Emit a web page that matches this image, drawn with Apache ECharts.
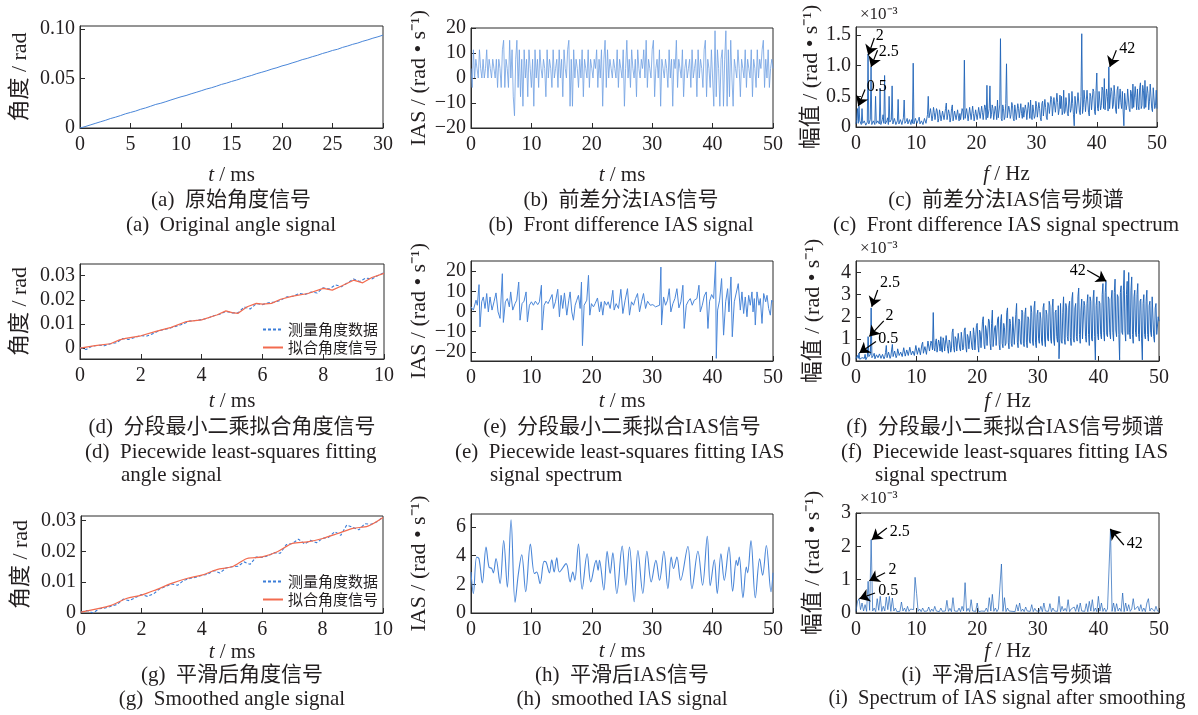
<!DOCTYPE html>
<html><head><meta charset="utf-8">
<script src="https://cdn.jsdelivr.net/npm/echarts/dist/echarts.min.js"></script>
<style>html,body{margin:0;padding:0;background:#fff}#c{width:1198px;height:715px}</style>
</head><body><div id="c"></div>
<script>
// ---------------- data ----------------
const aStep = 0.5; // ms
const aVals = [0.0000,0.0014,0.0030,0.0046,0.0062,0.0077,0.0095,0.0109,0.0125,0.0143,
0.0157,0.0171,0.0189,0.0203,0.0220,0.0238,0.0250,0.0266,0.0283,0.0299,
0.0315,0.0328,0.0345,0.0360,0.0376,0.0393,0.0406,0.0422,0.0440,0.0453,
0.0470,0.0484,0.0501,0.0517,0.0531,0.0549,0.0563,0.0578,0.0595,0.0609,
0.0627,0.0640,0.0657,0.0672,0.0690,0.0703,0.0720,0.0734,0.0752,0.0766,
0.0783,0.0795,0.0814,0.0828,0.0845,0.0858,0.0876,0.0890,0.0907,0.0921,0.0938];

const bStep = 0.2; // ms
const bVals = [3.8,-3.8,11.3,0,7.5,3.8,0,11.3,3.8,0,
7.5,0,3.8,11.3,0,7.5,3.8,0,7.5,3.8,
0,7.5,-3.8,7.5,3.8,-3.8,11.3,15.1,-3.8,7.5,
3.8,-3.8,15.1,0,11.3,-7.5,-15.1,7.5,15.1,-3.8,
11.3,-7.5,7.5,-11.3,11.3,0,7.5,-7.5,11.3,3.8,
-3.8,7.5,-11.3,11.3,0,7.5,-3.8,11.3,3.8,0,
7.5,3.8,-7.5,11.3,0,7.5,3.8,-3.8,11.3,0,
3.8,7.5,-3.8,11.3,0,7.5,-7.5,11.3,3.8,0,
11.3,15.1,-11.3,7.5,-11.3,11.3,0,7.5,3.8,-3.8,
7.5,0,11.3,-7.5,7.5,3.8,0,11.3,-3.8,7.5,
3.8,0,7.5,3.8,11.3,-3.8,7.5,0,11.3,-11.3,
7.5,15.1,-3.8,11.3,0,7.5,3.8,0,7.5,3.8,
0,11.3,-3.8,7.5,3.8,0,11.3,-11.3,3.8,15.1,
0,7.5,-3.8,11.3,3.8,0,7.5,-7.5,11.3,3.8,
0,7.5,3.8,11.3,0,15.1,-3.8,7.5,3.8,0,
11.3,15.1,-7.5,3.8,7.5,0,11.3,-11.3,7.5,3.8,
0,7.5,3.8,-3.8,11.3,0,7.5,-11.3,7.5,3.8,
15.1,-3.8,7.5,3.8,0,11.3,-7.5,3.8,7.5,0,
3.8,7.5,-3.8,11.3,0,3.8,7.5,-7.5,11.3,0,
7.5,3.8,-3.8,11.3,15.1,-7.5,7.5,3.8,-3.8,11.3,
0,-11.3,18.9,-7.5,11.3,3.8,-11.3,7.5,11.3,-11.3,
7.5,18.9,-11.3,11.3,-7.5,15.1,0,-11.3,7.5,3.8,
0,11.3,3.8,-7.5,7.5,3.8,0,11.3,-3.8,7.5,
3.8,0,11.3,-7.5,7.5,3.8,-3.8,11.3,0,7.5,
3.8,11.3,15.1,-3.8,7.5,0,11.3,-3.8,3.8,7.5,
3.8];

const specStep = 0.125; // Hz, for (c) and (f)
const cVals = [
0.05,0.12,0.30,0.06,0.34,0.10,0.08,0.04, 0.30,0.06,0.05,0.10,0.12,0.03,0.04,0.08,
1.19,0.05,0.06,0.12,0.98,0.04,0.05,0.10, 0.10,0.04,0.50,0.06,0.04,0.10,0.12,0.05,
0.63,0.04,0.05,0.12,0.20,0.06,0.84,0.05, 0.06,0.10,0.15,0.04,0.50,0.08,0.05,0.12,
0.67,0.05,0.08,0.14,0.12,0.04,0.04,0.10, 0.45,0.05,0.06,0.12,0.10,0.04,0.05,0.15,
0.44,0.06,0.04,0.10,0.14,0.05,0.06,0.12, 0.08,0.04,0.12,0.06,1.04,0.05,0.05,0.14,
0.10,0.06,0.04,0.12,0.16,0.05,0.06,0.10, 0.12,0.04,0.05,0.14,0.15,0.06,0.08,0.20,
0.50,0.15,0.12,0.30,0.28,0.10,0.18,0.32, 0.24,0.12,0.10,0.30,0.26,0.08,0.14,0.28,
0.20,0.10,0.08,0.26,0.24,0.12,0.12,0.30, 0.39,0.12,0.10,0.28,0.22,0.08,0.16,0.30,
0.36,0.10,0.08,0.26,0.25,0.12,0.12,0.28, 0.18,0.10,0.22,0.12,0.10,0.30,0.26,0.12,
1.09,0.14,0.12,0.30,0.28,0.10,0.10,0.32, 0.30,0.12,0.14,0.34,0.22,0.10,0.08,0.28,
0.25,0.12,0.10,0.32,0.30,0.14,0.12,0.34, 0.24,0.12,0.14,0.36,0.32,0.12,0.68,0.15,
0.12,0.30,0.67,0.14,0.20,0.36,0.30,0.12, 0.14,0.34,0.26,0.12,0.44,0.15,0.18,0.36,
1.44,0.14,0.10,0.36,0.30,0.12,0.16,0.38, 1.03,0.15,0.12,0.34,0.28,0.14,0.20,0.40,
0.35,0.14,0.10,0.36,0.26,0.12,0.14,0.38, 0.30,0.15,0.12,0.38,0.22,0.14,0.32,0.16,
0.16,0.36,0.28,0.12,0.10,0.40,0.30,0.14, 0.44,0.16,0.12,0.36,0.26,0.14,0.18,0.42,
0.34,0.16,0.14,0.40,0.30,0.15,0.10,0.38, 0.42,0.18,0.18,0.45,0.32,0.16,0.12,0.40,
0.36,0.22,0.20,0.50,0.45,0.18,0.16,0.48, 0.50,0.24,0.22,0.55,0.40,0.20,0.28,0.52,
0.30,0.50,0.20,0.26,0.60,0.22,0.26,0.48, 0.45,0.22,0.18,0.55,0.52,0.24,0.30,0.58,
0.38,0.20,0.02,0.50,0.48,0.22,0.24,0.56, 0.55,0.24,0.20,0.50,1.52,0.22,0.32,0.60,
0.45,0.25,0.22,0.60,0.62,0.24,0.18,0.55, 0.50,0.28,0.30,0.62,0.58,0.25,0.20,0.60,
0.88,0.30,0.26,0.58,0.55,0.28,0.35,0.65, 0.60,0.30,0.79,0.28,0.30,0.62,0.50,0.26,
0.98,0.30,0.28,0.64,0.58,0.30,0.36,0.68, 0.50,0.28,0.22,0.60,0.66,0.30,0.30,0.62,
0.40,0.30,0.58,0.26,0.02,0.55,0.52,0.28, 0.36,0.62,0.65,0.30,0.25,0.60,0.55,0.30,
0.70,0.32,0.30,0.66,0.48,0.28,0.62,0.34, 0.28,0.64,0.72,0.30,0.35,0.68,0.60,0.30,
0.76,0.32,0.30,0.66,0.55,0.28,0.42,0.70, 0.68,0.30,0.25,0.64,0.62,0.30,0.35,0.60,
0.30];

const dStep = 0.2; // ms
const dMeas = [0.0002,-0.0006,0.0008,0.0012,0.0010,0.0018,0.0022,0.0040,0.0036,0.0044,
0.0052,0.0050,0.0060,0.0072,0.0078,0.0084,0.0092,0.0100,0.0112,0.0114,
0.0118,0.0124,0.0134,0.0140,0.0152,0.0146,0.0146,0.0170,0.0162,0.0184,
0.0180,0.0188,0.0190,0.0198,0.0212,0.0214,0.0226,0.0222,0.0232,0.0228,
0.0250,0.0244,0.0262,0.0254,0.0270,0.0286,0.0276,0.0290,0.0286,0.0300,0.0312];
const dFit = [[0,0.0000],[0.5,0.0010],[1.0,0.0018],[1.3,0.0034],[1.5,0.0040],[2.0,0.0051],[2.5,0.0069],
[3.0,0.0086],[3.5,0.0110],[4.0,0.0117],[4.5,0.0137],[4.8,0.0154],[5.0,0.0147],[5.2,0.0144],[5.5,0.0171],
[5.8,0.0185],[6.0,0.0182],[6.3,0.0185],[6.6,0.0202],[7.0,0.0215],[7.5,0.0226],[8.0,0.0247],[8.3,0.0240],
[8.6,0.0257],[9.0,0.0281],[9.3,0.0270],[9.6,0.0292],[10.0,0.0309]];

const ePairs = [[0.00,2.3],[0.39,0.7],[0.83,5.6],[1.05,3.1],[1.33,13.3],[1.49,-7.6],[1.77,4.8],[2.04,7.2],
[2.32,1.5],[2.60,8.9],[2.87,-0.2],[3.15,7.2],[3.48,0.7],[3.81,4.8],[4.14,9.2],[4.48,-0.2],[4.81,-3.4],
[5.19,18.7],[5.36,-5.4],[5.69,4.8],[6.02,6.4],[6.35,2.3],[6.57,9.7],[6.91,0.7],[7.29,3.9],[7.57,5.6],
[7.90,14.6],[8.12,-4.3],[8.45,3.9],[8.78,5.1],[9.12,9.7],[9.34,-5.1],[9.67,3.1],[10.00,4.8],[10.33,3.1],
[10.66,5.1],[11.05,3.4],[11.33,4.8],[11.66,13.0],[11.77,-9.2],[12.10,3.1],[12.43,5.1],[12.76,3.9],
[13.09,6.1],[13.43,8.4],[13.65,1.5],[13.98,4.8],[14.36,11.0],[14.64,-2.6],[14.92,8.0],[15.19,1.5],
[15.47,9.2],[15.86,-1.8],[16.19,5.6],[16.41,9.7],[16.69,-0.2],[16.96,-4.3],[17.24,3.1],[17.51,5.6],
[17.79,8.0],[18.07,1.5],[18.29,14.6],[18.45,-16.9],[18.73,3.1],[19.17,5.6],[19.45,17.9],[19.67,-1.8],
[19.94,3.9],[20.28,2.3],[20.55,3.9],[20.94,6.7],[21.27,-0.2],[21.55,4.8],[21.82,-1.8],[22.10,5.1],
[22.43,3.1],[22.71,4.8],[23.04,1.5],[23.48,10.5],[23.70,0.7],[24.03,3.9],[24.42,1.5],[24.81,11.0],
[25.14,-1.0],[25.52,5.6],[25.91,11.3],[26.24,-1.8],[26.57,4.8],[26.91,3.1],[27.24,6.4],[27.57,8.9],
[27.90,-0.2],[28.23,4.8],[28.56,8.9],[28.90,1.5],[29.23,5.1],[29.67,3.1],[30.11,3.4],[30.55,2.3],
[30.88,3.1],[31.22,3.1],[31.44,22.0],[31.55,-6.7],[31.88,7.2],[32.21,3.1],[32.54,5.6],[32.82,11.3],
[33.09,-0.2],[33.43,3.9],[33.76,6.4],[34.09,11.3],[34.42,1.8],[34.75,4.8],[35.08,13.0],[35.30,-8.4],
[35.64,3.1],[35.97,5.1],[36.30,6.4],[36.63,3.1],[36.96,5.6],[37.40,6.4],[37.74,13.0],[37.96,-0.2],
[38.29,3.1],[38.62,7.7],[38.95,9.7],[39.23,-8.4],[39.50,5.1],[39.84,8.4],[40.17,6.4],[40.50,25.0],
[40.61,-23.2],[40.83,0.7],[41.16,5.6],[41.49,16.3],[41.82,-11.7],[42.16,4.8],[42.49,11.3],[42.71,-0.2],
[43.04,17.1],[43.26,-12.5],[43.59,4.8],[43.92,5.6],[44.25,13.8],[44.59,0.7],[44.86,9.7],[45.14,-1.0],
[45.41,7.2],[45.69,-2.6],[45.97,8.0],[46.24,3.1],[46.52,9.7],[46.69,-0.2],[46.91,6.4],[47.07,-6.7],
[47.35,9.7],[47.68,3.1],[47.90,6.4],[48.18,-5.9],[48.46,8.9],[48.79,4.8],[49.01,8.0],[49.28,1.5],
[49.56,-1.8],[49.78,5.6],[50.00,4.8]];

const fVals = [
0.10,0.18,0.25,0.12,0.36,0.08,0.05,0.15, 0.15,0.22,0.08,0.12,0.30,0.06,0.10,0.20,
1.10,0.20,0.12,0.30,2.40,0.15,0.10,0.25, 0.35,0.10,0.12,0.28,0.30,0.15,0.20,0.32,
0.40,0.12,0.15,0.30,0.35,0.10,0.20,0.38, 0.70,0.15,0.18,0.40,0.45,0.12,0.22,0.50,
0.75,0.20,0.20,0.45,0.40,0.15,0.25,0.55, 0.50,0.25,0.18,0.40,0.45,0.20,0.28,0.60,
0.55,0.22,0.20,0.50,0.42,0.25,0.30,0.62, 0.60,0.28,0.22,0.45,0.50,0.25,0.26,0.70,
0.70,0.30,0.30,0.60,0.55,0.28,0.25,0.75, 0.85,0.35,0.30,0.65,0.70,0.30,0.35,0.90,
0.95,0.45,0.40,0.90,0.80,0.50,2.19,0.60, 0.45,0.85,1.00,0.40,0.35,0.95,0.80,0.45,
1.10,0.50,0.40,1.05,0.90,0.45,0.50,1.15, 1.20,0.55,0.35,0.95,0.85,0.40,0.55,1.30,
1.45,0.60,0.40,1.10,1.00,0.45,0.50,1.25, 1.20,0.55,0.45,1.30,0.95,0.50,0.60,1.40,
1.50,0.65,0.40,1.20,1.10,0.55,0.55,1.35, 1.30,0.60,0.50,1.50,1.20,0.50,0.45,1.60,
1.70,0.70,0.40,1.40,1.30,0.60,0.60,1.80, 2.00,0.75,0.55,1.60,1.40,0.70,0.70,1.90,
1.80,0.80,0.50,1.70,2.30,0.65,0.60,1.50, 1.60,0.70,0.70,1.90,2.00,0.75,0.50,1.80,
2.10,0.80,0.60,1.70,1.50,0.70,0.80,2.20, 2.40,0.85,0.55,1.90,1.70,0.80,0.65,2.00,
2.00,0.75,0.70,2.10,2.60,0.85,0.60,1.90, 1.80,0.90,0.75,2.30,2.20,0.80,0.65,2.10,
2.40,0.85,0.60,2.00,1.90,0.90,0.80,2.50, 2.20,0.90,0.70,2.40,2.70,0.85,0.60,2.10,
2.30,1.00,0.80,2.20,1.90,0.90,0.70,2.40, 2.60,0.95,0.65,2.30,2.10,1.00,0.90,2.70,
2.50,1.00,0.80,2.40,2.80,0.95,0.70,2.20, 2.30,1.10,0.85,2.50,0.10,1.00,2.60,0.90,
0.80,2.20,2.90,1.00,0.75,2.60,2.40,1.10, 0.90,2.50,2.70,1.05,0.70,2.80,3.10,1.00,
0.85,2.40,2.60,1.10,0.90,2.90,3.30,1.20, 0.80,2.30,2.80,1.00,0.95,2.70,2.50,1.10,
0.85,2.60,3.00,1.20,0.70,2.90,2.70,1.00, 0.90,2.80,3.20,1.10,0.05,2.50,2.90,1.20,
0.95,2.70,2.60,1.20,1.00,3.00,3.50,1.30, 0.90,3.10,3.60,1.20,1.10,2.90,2.80,1.30,
1.00,2.80,3.20,1.30,0.90,3.10,3.70,1.40, 1.10,3.00,2.90,1.20,0.05,3.10,3.40,1.30,
1.20,3.20,4.10,1.40,0.90,3.00,3.60,1.20, 4.00,1.30,1.00,3.20,3.80,1.20,0.80,2.90,
3.20,1.30,1.10,3.00,3.50,1.20,0.90,2.70, 2.80,1.00,0.05,2.60,3.00,1.20,1.00,2.70,
3.20,1.20,0.90,2.50,2.70,1.30,1.10,2.90, 2.90,1.10,0.85,2.40,2.60,1.20,1.20,2.00,
1.80];

const gMeas = [0.0003,0.0008,0.0000,0.0014,0.0016,0.0022,0.0028,0.0045,0.0040,0.0050,
0.0060,0.0054,0.0062,0.0078,0.0086,0.0094,0.0090,0.0106,0.0112,0.0116,
0.0122,0.0126,0.0138,0.0130,0.0146,0.0150,0.0152,0.0166,0.0158,0.0182,
0.0180,0.0186,0.0196,0.0194,0.0222,0.0226,0.0240,0.0224,0.0236,0.0228,
0.0242,0.0246,0.0264,0.0252,0.0286,0.0278,0.0270,0.0290,0.0288,0.0296,0.0312];
const gFit = [[0,0.0003],[1.0,0.0025],[1.5,0.0047],[2.0,0.0058],[2.5,0.0076],[3.0,0.0096],[3.5,0.0112],
[4.0,0.0123],[4.5,0.0141],[5.0,0.0150],[5.5,0.0177],[6.0,0.0182],[6.5,0.0199],[7.0,0.0226],[7.5,0.0231],
[8.0,0.0242],[8.5,0.0258],[9.0,0.0275],[9.5,0.0282],[10.0,0.0310]];

const hPairs = [[0.00,2.86],[0.39,1.36],[0.94,3.90],[1.33,3.78],[1.88,2.10],[2.49,4.60],[2.98,3.20],
[3.43,3.10],[3.70,2.80],[4.14,3.80],[4.81,2.05],[5.41,5.05],[6.02,1.80],[6.63,6.50],[7.29,0.74],
[7.85,2.75],[8.40,4.06],[9.06,1.48],[9.83,4.80],[10.50,2.75],[10.88,2.86],[11.44,2.05],[12.10,3.60],
[12.43,3.55],[12.98,2.80],[13.37,3.70],[13.76,2.86],[14.20,3.85],[14.64,2.86],[15.75,3.44],[16.41,2.17],
[16.85,2.86],[17.18,2.28],[17.79,4.80],[18.40,1.66],[19.23,4.13],[19.83,2.17],[20.72,3.67],[21.05,2.98],
[21.27,3.67],[21.99,1.60],[22.54,4.30],[23.04,2.75],[23.48,4.20],[24.14,1.36],[25.03,4.66],[25.64,1.94],
[26.24,4.60],[27.02,0.78],[27.63,4.36],[28.45,1.36],[29.12,4.30],[29.84,2.17],[30.61,3.67],[31.22,2.28],
[31.93,4.30],[32.60,1.70],[33.15,3.90],[33.53,3.10],[34.09,3.90],[34.70,2.28],[35.91,4.64],[36.58,1.70],
[37.57,4.30],[38.34,1.94],[39.12,5.35],[39.61,1.90],[40.28,3.70],[40.77,1.36],[41.38,4.13],[41.93,2.28],
[42.71,4.60],[43.32,1.52],[43.92,3.67],[44.14,3.30],[44.42,3.90],[45.03,1.06],[45.58,3.20],[45.80,2.80],
[46.35,5.05],[47.07,1.06],[47.79,3.78],[48.28,2.63],[48.90,4.70],[49.67,1.48],[50.00,2.80]];

const iStep = 0.25; // Hz
const iVals = [0.05,0.35,0.43,0.10, 0.30,0.06,0.25,0.05, 0.95,0.08,2.20,0.06, 0.15,0.04,0.43,0.08,
0.50,0.05,0.20,0.06, 0.48,0.10,0.50,0.05, 0.45,0.06,0.15,0.04, 0.10,0.05,0.33,0.06,
0.15,0.04,0.20,0.05, 0.12,0.06,0.10,1.07, 0.58,0.05,0.12,0.04, 0.15,0.05,0.10,0.06,
0.18,0.04,0.12,0.05, 0.20,0.06,0.08,0.04, 0.15,0.05,0.10,0.06, 0.38,0.05,0.14,0.04,
0.46,0.06,0.12,0.05, 0.15,0.04,0.20,0.06, 0.91,0.05,0.14,0.04, 0.40,0.06,0.12,0.05,
0.30,0.04,0.10,0.06, 0.12,0.05,0.15,0.04, 0.46,0.06,0.56,0.05, 0.15,0.04,0.12,0.06,
1.47,0.05,0.46,0.04, 0.15,0.06,0.12,0.05, 0.10,0.04,0.25,0.06, 0.30,0.05,0.12,0.04,
0.18,0.06,0.10,0.05, 0.25,0.04,0.14,0.06, 0.12,0.05,0.20,0.04, 0.30,0.06,0.12,0.05,
0.28,0.04,0.15,0.06, 0.12,0.05,0.50,0.04, 0.20,0.06,0.14,0.05, 0.40,0.04,0.12,0.06,
0.18,0.05,0.25,0.04, 0.30,0.06,0.12,0.05, 0.28,0.04,0.35,0.06, 0.40,0.05,0.15,0.04,
0.50,0.06,0.30,0.05, 0.15,0.04,0.12,0.06, 2.52,0.05,0.30,0.04, 0.28,0.06,0.15,0.05,
0.60,0.04,0.30,0.06, 0.25,0.05,0.12,0.43, 0.10,0.04,0.20,0.06, 0.25,0.05,0.15,0.04,
0.30,0.43,0.06,0.15, 0.12,0.05,0.20,0.06, 0.05];

// tick values
const xTicks30 = [0,5,10,15,20,25,30];
const xTicks50 = [0,10,20,30,40,50];
const xTicks10 = [0,2,4,6,8,10];
const aYTicks = [0,0.05,0.10];
const bYTicks = [-20,-10,0,10,20];
const cYTicks = [0,0.5,1.0,1.5];
const dYTicks = [0,0.01,0.02,0.03];
const eYTicks = [-20,-10,0,10,20];
const fYTicks = [0,1,2,3,4];
const hYTicks = [0,2,4,6];
const iYTicks = [0,1,2,3];

// legend names
const seriesNames = ['测量角度数据','拟合角度信号'];

// annotations: arrows [tailX, tailY, tipX, tipY], labels [x, y, text, side]
const cArrows = [[3.04,1.45,2.04,1.17],[3.58,1.25,2.49,0.98],[1.5,0.61,0.38,0.34],[43.24,1.25,42.15,0.98]];
const cLabels = [[3.2,1.49,'2','right'],[3.68,1.23,'2.5','right'],[1.7,0.65,'0.5','right'],[43.64,1.27,'42','right']];
const fArrows = [[3.58,3.21,2.59,2.45],[4.58,1.81,2.21,1.11],[3.3,0.88,0.56,0.36],[38.15,4.1,41.3,3.61]];
const fLabels = [[3.87,3.52,'2.5','right'],[4.79,2.06,'2','right'],[3.58,1.0,'0.5','right'],[37.98,4.07,'42','left']];
const iArrows = [[5.1,2.55,2.6,2.2],[4.8,1.21,2.2,0.97],[3.14,0.6,0.56,0.43],[44.2,2.04,41.95,2.52]];
const iLabels = [[5.5,2.45,'2.5','right'],[5.3,1.29,'2','right'],[3.58,0.67,'0.5','right'],[44.6,2.08,'42','right']];

// ---------------- layout / style ----------------
const FONT = '"Liberation Serif","Times New Roman","Noto Sans CJK SC",serif';
const CJK = '"Noto Sans CJK SC",sans-serif';
const TXT = '#231f20';
const AX = '#2b2b2b';

const grids = [
  {left:80, top:26, width:303, height:102},
  {left:471, top:28, width:302, height:100},
  {left:856, top:27, width:301, height:100},
  {left:80, top:264, width:304, height:95},
  {left:471, top:261, width:302, height:100},
  {left:856, top:261, width:303, height:100},
  {left:81, top:516, width:302, height:97},
  {left:471, top:514, width:302, height:99},
  {left:856, top:513, width:303, height:100}
].map(g => Object.assign({show:true, borderColor:AX, borderWidth:1, containLabel:false}, g));

const minus = s => String(s).replace('-', '\u2212');

function xAx(i, max, ticks, name, gap) {
  return {
    type:'value', gridIndex:i, min:0, max:max,
    axisLine:{show:true, onZero:false, lineStyle:{color:AX, width:1}},
    axisTick:{show:true, inside:true, length:5, customValues:ticks, lineStyle:{color:AX, width:1}},
    axisLabel:{customValues:ticks, margin:7, fontSize:20, fontFamily:FONT, color:TXT, formatter:v => minus(v)},
    splitLine:{show:false},
    name:name, nameLocation:'middle', nameGap:gap,
    nameTextStyle:{fontSize:21, fontFamily:FONT, color:TXT,
      rich:{i:{fontStyle:'italic', fontSize:21, fontFamily:FONT, color:TXT}, n:{fontSize:21, fontFamily:FONT, color:TXT}}}
  };
}
function yAx(i, min, max, ticks, fmt, name, gap) {
  return {
    type:'value', gridIndex:i, min:min, max:max,
    axisLine:{show:true, onZero:false, lineStyle:{color:AX, width:1}},
    axisTick:{show:true, inside:true, length:5, customValues:ticks, lineStyle:{color:AX, width:1}},
    axisLabel:{customValues:ticks, margin:5, fontSize:20, fontFamily:FONT, color:TXT, formatter:fmt},
    splitLine:{show:false},
    name:name, nameLocation:'middle', nameRotate:90, nameGap:gap,
    nameTextStyle:{fontSize:22, fontFamily:FONT, color:TXT}
  };
}
const f2 = v => v === 0 ? '0' : v.toFixed(2);
const f1 = v => v === 0 ? '0' : v.toFixed(1);
const fi = v => minus(v);

const tName = '{i|t}{n| / ms}';
const fName = '{i|f}{n| / Hz}';
const angName = '角度 / rad';
const iasName = 'IAS / (rad • s⁻¹)';
const ampName = '幅值 / (rad • s⁻¹)';

const xAxis = [
  xAx(0, 30, xTicks30, tName, 37), xAx(1, 50, xTicks50, tName, 37), xAx(2, 50, xTicks50, fName, 37),
  xAx(3, 10, xTicks10, tName, 32), xAx(4, 50, xTicks50, tName, 30), xAx(5, 50, xTicks50, fName, 30),
  xAx(6, 10, xTicks10, tName, 29), xAx(7, 50, xTicks50, tName, 28), xAx(8, 50, xTicks50, fName, 28)
];
const yAxis = [
  yAx(0, 0, 0.103, aYTicks, f2, angName, 49),
  yAx(1, -20, 20, bYTicks, fi, iasName, 41),
  yAx(2, 0, 1.63, cYTicks, f1, ampName, 32),
  yAx(3, -0.0045, 0.0348, dYTicks, f2, angName, 49),
  yAx(4, -24.5, 25, eYTicks, fi, iasName, 41),
  yAx(5, 0, 4.52, fYTicks, fi, ampName, 32),
  yAx(6, 0, 0.0315, dYTicks, f2, angName, 49),
  yAx(7, 0, 6.9, hYTicks, fi, iasName, 41),
  yAx(8, 0, 3, iYTicks, fi, ampName, 32)
];

function line(i, data, color, width, extra) {
  return Object.assign({
    type:'line', xAxisIndex:i, yAxisIndex:i, data:data, symbol:'none', showSymbol:false,
    lineStyle:{color:color, width:width}, itemStyle:{color:color}, animation:false, silent:true
  }, extra || {});
}
function annot(arrows, labels) {
  return {
    markLine:{
      silent:true, animation:false, symbol:['none','arrow'], symbolSize:10,
      lineStyle:{color:'#000', width:1.2, type:'solid'}, label:{show:false},
      emphasis:{disabled:true},
      data: arrows.map(a => [{coord:[a[0], a[1]]}, {coord:[a[2], a[3]]}])
    },
    markPoint:{
      silent:true, animation:false, symbol:'circle', symbolSize:1, itemStyle:{color:'rgba(0,0,0,0)'},
      label:{show:true, formatter:'{b}', distance:0, color:'#000', fontSize:16, fontFamily:FONT},
      data: labels.map(l => ({coord:[l[0], l[1]], name:l[2], label:{position:l[3]}}))
    }
  };
}
const idx = (arr, step) => arr.map((v, k) => [k * step, v]);
const SPEC = '#1f63b8';

const series = [
  line(0, idx(aVals, aStep), '#4a86d8', 1),
  line(1, idx(bVals, bStep), '#6f9fe2', 0.8),
  line(2, idx(cVals, specStep), SPEC, 0.9, annot(cArrows, cLabels)),
  line(3, idx(dMeas, dStep), '#3b7dd8', 1.1, {name:seriesNames[0], lineStyle:{color:'#3b7dd8', width:1.1, type:[3,2]}}),
  line(3, dFit, '#f26b4f', 1.2, {name:seriesNames[1]}),
  line(4, ePairs, '#4a86d8', 1),
  line(5, idx(fVals, specStep), SPEC, 0.95, annot(fArrows, fLabels)),
  line(6, idx(gMeas, dStep), '#3b7dd8', 1.1, {name:seriesNames[0], lineStyle:{color:'#3b7dd8', width:1.1, type:[3,2]}}),
  line(6, gFit, '#f26b4f', 1.2, {name:seriesNames[1], smooth:0.3}),
  line(7, hPairs, '#4a86d8', 1.1, {smooth:0.35}),
  line(8, idx(iVals, iStep), SPEC, 0.7, annot(iArrows, iLabels))
];

const legendBase = {
  data: seriesNames, orient:'vertical', itemWidth:20, itemHeight:10, itemGap:3, padding:0,
  selectedMode:false, itemStyle:{opacity:0, borderWidth:0},
  textStyle:{fontSize:15, fontFamily:CJK, color:TXT}
};
const legend = [
  Object.assign({left:262, top:322}, legendBase),
  Object.assign({left:262, top:574}, legendBase)
];

// captions
const cap = (text, x, y, align, size) => ({
  type:'text', x:x, y:y, silent:true,
  style:{text:text, align:align || 'center', verticalAlign:'middle', fontSize:size || 21, fontFamily:FONT, fill:TXT}
});
const graphic = [
  cap('(a)  原始角度信号', 231, 200), cap('(a)  Original angle signal', 231, 225),
  cap('(b)  前差分法IAS信号', 621, 200), cap('(b)  Front difference IAS signal', 621, 225),
  cap('(c)  前差分法IAS信号频谱', 1006, 200), cap('(c)  Front difference IAS signal spectrum', 1006, 225),
  cap('(d)  分段最小二乘拟合角度信号', 232, 427),
  cap('(d)  Piecewide least-squares fitting', 85, 452, 'left'), cap('angle signal', 121, 475, 'left'),
  cap('(e)  分段最小二乘拟合IAS信号', 622, 427),
  cap('(e)  Piecewide least-squares fitting IAS', 455, 452, 'left'), cap('signal spectrum', 490, 475, 'left'),
  cap('(f)  分段最小二乘拟合IAS信号频谱', 1005, 427),
  cap('(f)  Piecewide least-squares fitting IAS', 841, 452, 'left'), cap('signal spectrum', 875, 475, 'left'),
  cap('(g)  平滑后角度信号', 232, 675), cap('(g)  Smoothed angle signal', 232, 699),
  cap('(h)  平滑后IAS信号', 622, 675), cap('(h)  smoothed IAS signal', 622, 699),
  cap('(i)  平滑后IAS信号频谱', 1007, 675), cap('(i)  Spectrum of IAS signal after smoothing', 1007, 699, 'center', 20.5),
  {type:'text', x:860, y:15, silent:true, style:{text:'×10⁻³', verticalAlign:'middle', fontSize:17, fontFamily:FONT, fill:TXT}},
  {type:'text', x:860, y:249, silent:true, style:{text:'×10⁻³', verticalAlign:'middle', fontSize:17, fontFamily:FONT, fill:TXT}},
  {type:'text', x:860, y:499, silent:true, style:{text:'×10⁻³', verticalAlign:'middle', fontSize:17, fontFamily:FONT, fill:TXT}}
];

const chart = echarts.init(document.getElementById('c'), null, {renderer:'canvas'});
chart.setOption({
  backgroundColor:'#fff', animation:false,
  grid:grids, xAxis:xAxis, yAxis:yAxis, series:series, legend:legend, graphic:graphic
});
</script></body></html>
